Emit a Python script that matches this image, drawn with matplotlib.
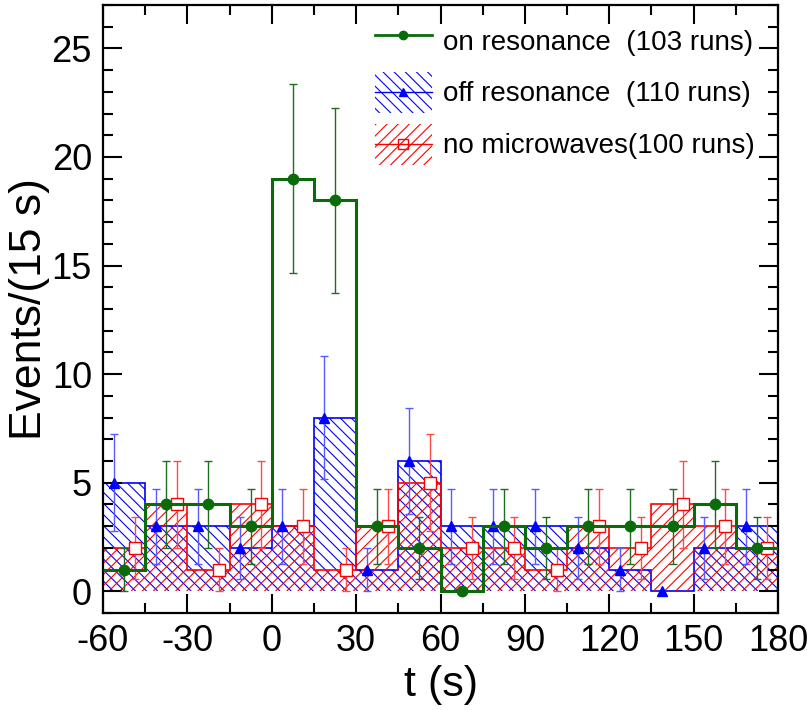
import numpy as np
import matplotlib
matplotlib.use("Agg")
import matplotlib.pyplot as plt
from matplotlib.patches import Rectangle
from matplotlib.lines import Line2D
from matplotlib.legend_handler import HandlerBase
from matplotlib.ticker import MultipleLocator

# ---- data ----
bin_edges = [-60, -45, -30, -15, 0, 15, 30, 45, 60, 75, 90, 105, 120, 135, 150, 165, 180]
on_res = [1, 4, 4, 3, 19, 18, 3, 2, 0, 3, 2, 3, 3, 3, 4, 2]
off_res = [5, 3, 3, 2, 3, 8, 1, 6, 3, 3, 3, 2, 1, 0, 2, 3]
no_mw = [2, 4, 1, 4, 3, 1, 3, 5, 2, 2, 1, 3, 2, 4, 3, 2]
labels = ["on resonance  (103 runs)", "off resonance  (110 runs)", "no microwaves(100 runs)"]
xticks = [-60, -30, 0, 30, 60, 90, 120, 150, 180]
yticks = [0, 5, 10, 15, 20, 25]

plt.rcParams['hatch.linewidth'] = 0.8
plt.rcParams['axes.unicode_minus'] = False
plt.rcParams['font.family'] = ['Liberation Sans', 'DejaVu Sans']

fig = plt.figure(figsize=(8.07, 7.10), dpi=100)
ax = fig.add_axes([103/807, 1-613/710, (778-103)/807, (613-5)/710])

edges = np.array(bin_edges, dtype=float)
centers = 0.5*(edges[:-1] + edges[1:])
on = np.array(on_res, float); off = np.array(off_res, float); nm = np.array(no_mw, float)

ax.stairs(off, edges, fill=True, facecolor='none', edgecolor='blue', hatch='\\\\\\', lw=1.2, zorder=1)
ax.stairs(nm, edges, fill=True, facecolor='none', edgecolor='red', hatch='///', lw=1.2, zorder=1.5)

def ebar(x, y, col, ecol, marker, ms, mfc, z):
    err = np.sqrt(y)
    m = y > 0
    ax.errorbar(x[m], y[m], yerr=err[m], fmt='none', ecolor=ecol, elinewidth=1.0,
                capsize=3, capthick=1.0, zorder=z)
    ax.plot(x, y, linestyle='none', marker=marker, ms=ms, mfc=mfc, mec=col, mew=1.0, zorder=z+0.5)

ebar(centers - 3.75, off, 'blue', '#5a5aff', '^', 7, 'blue', 3)
ebar(centers + 3.75, nm, 'red', '#ff4a4a', 's', 8, 'white', 3)
ax.stairs(on, edges, baseline=None, color='#0b6b0b', lw=2.2, zorder=5)
ebar(centers, on, '#0b6b0b', '#1f6e1f', 'o', 7.5, '#0b6b0b', 5)

ax.set_xlim(-60, 180)
ax.set_ylim(-1, 27)
ax.set_xticks(xticks)
ax.set_yticks(yticks)
ax.xaxis.set_minor_locator(MultipleLocator(15))
ax.yaxis.set_minor_locator(MultipleLocator(1))
ax.tick_params(which='both', direction='in', top=True, right=True, width=1.5)
ax.tick_params(which='major', length=14, labelsize=26, pad=8)
ax.tick_params(which='minor', length=7)
for s in ax.spines.values():
    s.set_linewidth(1.6)

ax.set_xlabel("t (s)", fontsize=31, labelpad=4)
ax.set_ylabel("Events/(15 s)", fontsize=32, labelpad=1)


class HatchHandler(HandlerBase):
    def __init__(self, color, hatch, marker, ms, mfc):
        super().__init__()
        self.c, self.h, self.mk, self.ms, self.mfc = color, hatch, marker, ms, mfc

    def create_artists(self, legend, orig_handle, xdescent, ydescent, width, height, fontsize, trans):
        x0, y0 = -xdescent, -ydescent
        r = Rectangle((x0, y0), width, height, facecolor='none', edgecolor=self.c,
                      hatch=self.h, lw=0, transform=trans)
        ym = y0 + height / 2
        ln = Line2D([x0, x0 + width], [ym, ym], color=self.c, lw=1, transform=trans)
        mk = Line2D([x0 + width / 2], [ym], marker=self.mk, ms=self.ms, mfc=self.mfc,
                    mec=self.c, mew=1, ls='none', transform=trans)
        return [r, ln, mk]


h_on = Line2D([], [], color='#0b6b0b', lw=2, marker='o', ms=6)
h_off = Rectangle((0, 0), 1, 1)
h_nm = Rectangle((0, 0), 1, 1)
leg = ax.legend([h_on, h_off, h_nm], labels, loc='upper right', bbox_to_anchor=(0.988, 1.0),
                frameon=False,
                fontsize=20, handlelength=2.05, handleheight=1.9, labelspacing=0.38,
                handletextpad=0.4, borderaxespad=0.35, borderpad=0.2,
                handler_map={h_off: HatchHandler('blue', '\\\\\\', '^', 6, 'blue'),
                             h_nm: HatchHandler('red', '///', 's', 7, 'none')})

fig.savefig("out.png", dpi=100)
